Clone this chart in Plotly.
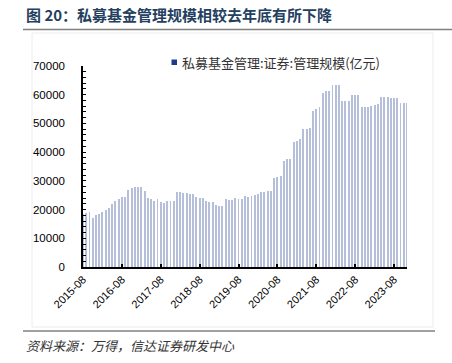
import plotly.graph_objects as go
import pandas as pd

# ---- data ----
months = pd.date_range("2015-08-01", "2023-12-01", freq="MS").strftime("%Y-%m").tolist()
aum = [
    18500, 18800, 19050, 17000, 17950, 18500, 19200, 19750, 20700, 22050,
    22940, 23700, 24270, 24270, 26650, 27400, 27750, 28000, 28000, 26300,
    24050, 23580, 22820, 23520, 22530, 22250, 22880, 22830, 22880, 26080,
    26080, 25840, 25610, 25450, 25270, 24280, 24100, 23930, 22830, 22700,
    22480, 21490, 21200, 21200, 23530, 23470, 23180, 24110, 23530, 23540,
    24750, 24520, 24570, 25100, 25270, 26020, 26260, 26380, 26500, 30960,
    31480, 31830, 36760, 37460, 37690, 43610, 44050, 44470, 47920, 48210,
    48550, 54470, 55170, 55870, 60740, 61150, 61150, 63420, 63420, 63420,
    57850, 57850, 57850, 59760, 59760, 59760, 55580, 55580, 55580, 56100,
    56330, 56620, 59350, 59350, 59350, 58770, 58890, 58890, 57200, 57200,
    57200,
]
tick_text = ["2015-08", "2016-08", "2017-08", "2018-08", "2019-08",
             "2020-08", "2021-08", "2022-08", "2023-08"]
y_ticks = [0, 10000, 20000, 30000, 40000, 50000, 60000, 70000]
y_tick_text = ["0", "10000", "20000", "30000", "40000", "50000", "60000", "70000"]

series_name = "私募基金管理:证券:管理规模(亿元)"
title_text = "图 20：私募基金管理规模相较去年底有所下降"
source_text = "资料来源：万得，信达证券研发中心"

# ---- layout geometry (pixels) ----
W, H = 452, 363
ML, MR, MT, MB = 83, 45, 66, 96
PW, PH = W - ML - MR, H - MT - MB


def px(x):
    return (x - ML) / PW


def py(y):
    return (H - MB - y) / PH


fig = go.Figure()
fig.add_trace(go.Bar(
    x=months, y=aum, width=0.28,
    marker=dict(color="#b6bfda", line=dict(width=0)),
    showlegend=False,
))

CJK = "Noto Sans CJK SC"
fig.update_layout(
    width=W, height=H,
    margin=dict(l=ML, r=MR, t=MT, b=MB, pad=0),
    paper_bgcolor="white", plot_bgcolor="white",
    showlegend=False,
    bargap=0,
    xaxis=dict(
        type="category", range=[0, len(months) - 1],
        tickmode="array", tickvals=tick_text, ticktext=tick_text,
        tickangle=-45, ticks="inside", ticklen=3, tickwidth=1.5, tickcolor="#000",
        showline=True, linecolor="#000", linewidth=1.5, showgrid=False, zeroline=False,
        tickfont=dict(family="Liberation Sans, Arial", size=11, color="#000"),
    ),
    yaxis=dict(
        range=[0, 70000], tickmode="array", tickvals=y_ticks, ticktext=y_tick_text,
        ticks="inside", ticklen=3, tickwidth=1, tickcolor="#000",
        minor=dict(dtick=2000, ticks="inside", ticklen=3, tickwidth=1, tickcolor="#000"),
        showline=True, linecolor="#000", linewidth=1.5, showgrid=False, zeroline=False,
        ticklabelstandoff=14,
        tickfont=dict(family="Liberation Sans, Arial", size=11.5, color="#000"),
    ),
)

# outer faint chart border
fig.add_shape(type="rect", xref="paper", yref="paper",
              x0=px(32), x1=px(433), y0=py(327), y1=py(33),
              line=dict(color="#ececec", width=1), layer="below")
# title underline
fig.add_shape(type="line", xref="paper", yref="paper",
              x0=px(23), x1=px(452), y0=py(29.5), y1=py(29.5),
              line=dict(color="#7f7f7f", width=1.5))
# source line
fig.add_shape(type="line", xref="paper", yref="paper",
              x0=px(23), x1=px(435), y0=py(331), y1=py(331),
              line=dict(color="#404040", width=1))
# legend square
fig.add_shape(type="rect", xref="paper", yref="paper",
              x0=px(171.5), x1=px(177), y0=py(65), y1=py(59.5),
              line=dict(width=0), fillcolor="#1f3a8a")

fig.add_annotation(text="<b>" + title_text + "</b>", xref="paper", yref="paper",
                   x=px(24), y=py(15), xanchor="left", yanchor="middle",
                   showarrow=False, font=dict(family=CJK, size=15, color="#243f60"))
fig.add_annotation(text=series_name, xref="paper", yref="paper",
                   x=px(179.5), y=py(62), xanchor="left", yanchor="middle",
                   showarrow=False, font=dict(family=CJK, size=13, color="#333333"))
fig.add_annotation(text="<i>" + source_text + "</i>", xref="paper", yref="paper",
                   x=px(24), y=py(345), xanchor="left", yanchor="middle",
                   showarrow=False, font=dict(family=CJK, size=13, color="#333333"))

fig.write_html("out.html", config={"displayModeBar": False},
               post_script="document.body.style.margin='0px';")
